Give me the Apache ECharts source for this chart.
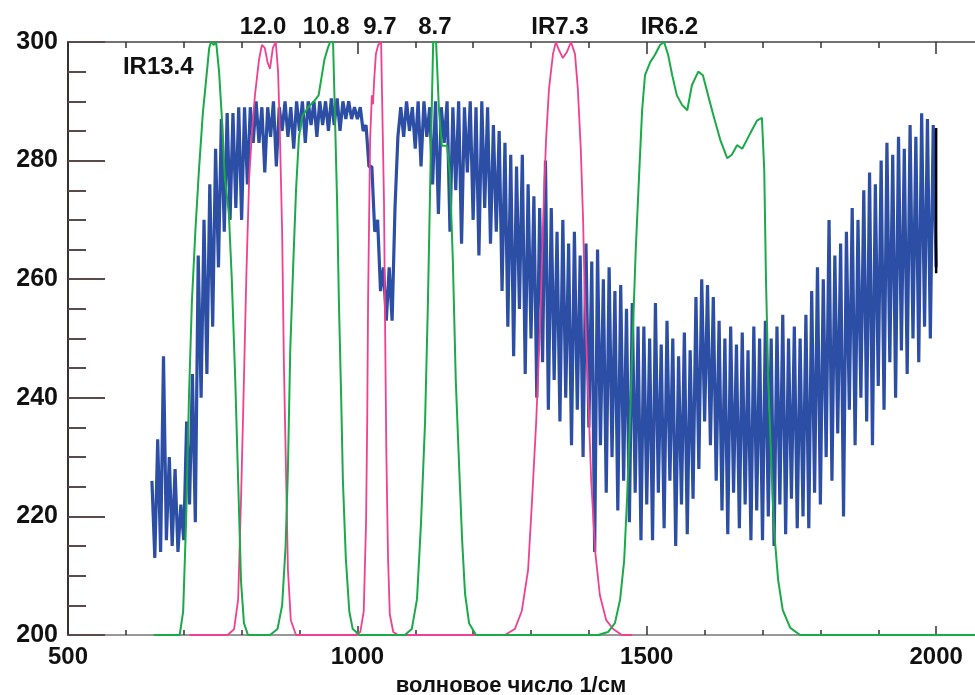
<!DOCTYPE html>
<html lang="ru">
<head>
<meta charset="utf-8">
<title>Спектр и каналы</title>
<script src="https://cdn.jsdelivr.net/npm/echarts/dist/echarts.min.js"></script>
<style>
  html, body { margin: 0; padding: 0; background: #fff; }
  #main { width: 975px; height: 695px; }
</style>
</head>
<body>
<div id="main"></div>
<script type="text/javascript">
// яркостная температура (K), шаг 5 см-1 начиная с 645
var specStart = 645;
var specStep = 5;
var specT = [
  226, 213, 233, 214, 247, 216, 230, 215, 228, 214,   // 645
  222, 216, 236, 222, 244, 219, 264, 240, 270, 244,   // 695
  276, 252, 282, 262, 287, 268, 288, 270, 288, 272,   // 745
  289, 270, 289, 276, 289, 283, 290, 283, 289, 278,   // 795
  289, 284, 290, 279, 289, 285, 290, 284, 289, 282,   // 845
  290, 285, 290, 283, 290, 286, 290, 284, 290, 286,   // 895
  290, 285, 290.5, 286, 290.5, 285, 290, 287, 290, 287, // 945
  289, 287, 289, 285, 286, 279, 279, 268, 270, 258,   // 995
  262, 253, 262, 253, 272, 284, 289, 284, 290, 285,   // 1045
  289, 282, 290, 279, 290, 284, 289, 276, 290, 271,   // 1095
  289, 283, 290, 268, 289, 275, 290, 266, 289, 278,   // 1145
  290, 270, 289, 264, 290, 272, 289, 266, 286, 268,   // 1195
  285, 258, 283, 252, 281, 247, 279, 255, 281, 244,   // 1245
  276, 250, 274, 240, 272, 246, 280, 238, 272, 243,   // 1295
  268, 236, 270, 240, 266, 232, 268, 238, 264, 230,   // 1345
  266, 235, 263, 214, 265, 232, 260, 224, 262, 230,   // 1395
  258, 221, 259, 226, 255, 219, 256, 224, 252, 216,   // 1445
  252, 222, 250, 216, 256, 224, 249, 218, 253, 226,   // 1495
  250, 215, 247, 222, 251, 217, 248, 223, 257, 228,   // 1545
  260, 236, 259, 232, 257, 226, 253, 221, 250, 217,   // 1595
  252, 224, 249, 218, 251, 222, 248, 216, 252, 221,   // 1645
  250, 216, 253, 220, 250, 215, 252, 222, 254, 217,   // 1695
  250, 223, 252, 218, 250, 220, 254, 218, 258, 224,   // 1745
  262, 222, 260, 230, 270, 226, 264, 234, 266, 220,   // 1795
  268, 238, 272, 232, 270, 240, 275, 236, 278, 232,   // 1845
  276, 242, 280, 238, 283, 246, 281, 240, 284, 248,   // 1895
  282, 244, 286, 250, 284, 246, 288, 252, 287, 250,   // 1945
  286, 262                                            // 1995
];
// чёрная метка на конце спектра
var endMark = [[2000, 261], [2000, 285.5]];

// функции пропускания каналов [волновое число, значение]
var chIR134 = [[648,200],[693,200],[699,204],[704,219],[709,240],[714,256],[720,268],[726,278],[733,288],[739,294],[744,299],[747,300],[752,299.5],[756,300],[761,295],[766,287],[771,277],[778,271],[783,260],[789,243],[794,226],[799,209],[804,202],[811,200],[850,200]];
var ch120 = [[710,200],[776,200],[787,201],[794,206],[799,223],[804,243],[808,260],[813,277],[818,285],[823,291],[830,297],[835,299.5],[840,299],[845,296.5],[849,295.5],[854,299],[859,300],[863,295],[866,285],[870,268],[873,246],[877,226],[880,211],[885,202.5],[894,200],[1000,200]];
var ch108 = [[849,200],[862,201],[870,205],[876,215],[880,228],[884,248],[889,262],[894,275],[899,284],[905,287.5],[915,289],[925,290],[933,291],[938,294],[943,297],[949,299],[953,300],[958,300],[961,288.5],[965,273],[968,256.5],[972,240],[975,226],[980,213],[986,204],[992,201],[1004,200],[1085,200]];
var ch97 = [[996,200],[1005,200.5],[1011,204],[1015,219],[1017,236],[1018.5,256.5],[1022,283.5],[1024,288.5],[1025,291],[1027,289.5],[1029,293.5],[1032,298],[1036,299.5],[1041,300],[1044,299.7],[1046,273],[1048,251],[1050,231],[1053,213],[1056,203.5],[1062,200.5],[1070,200],[1260,200]];
var ch87 = [[1082,200],[1094,201],[1103,206],[1110,219],[1117,236],[1122,256.5],[1127,282],[1131,300],[1136,300],[1141,288.5],[1146,282.5],[1155,282.5],[1160,277.5],[1165,263],[1170,243],[1176,228],[1181,216],[1186,207],[1193,202],[1205,200],[1420,200]];
var chIR73 = [[1255,200],[1272,201],[1284,204],[1295,211],[1302,223],[1309,236],[1316,253],[1321,270],[1326,283.5],[1331,292],[1338,298],[1343,300],[1348,298.7],[1355,297.3],[1362,298.3],[1369,300],[1376,298],[1381,292],[1386,282],[1390,270],[1393,256.5],[1399,240],[1404,226],[1411,214],[1419,206.7],[1430,202.5],[1442,201],[1457,200],[1475,200]];
var chIR62 = [[1416,200],[1433,200.5],[1445,202],[1454,206],[1461,212.6],[1466,223],[1471,236],[1476,251],[1481,265],[1487,278],[1492,288.5],[1497,294.4],[1506,296.6],[1514,297.8],[1523,299.5],[1530,300],[1537,297.8],[1544,294.4],[1552,291],[1561,289.4],[1570,288.5],[1578,292.7],[1589,295],[1597,294.4],[1606,291],[1615,287.7],[1627,283.5],[1639,280.4],[1647,281],[1656,282.6],[1665,282],[1673,283.5],[1682,285.2],[1691,286.8],[1699,287.2],[1703,278.4],[1706,260],[1710,243],[1715,229.5],[1720,217.7],[1727,209.3],[1735,204.2],[1748,201.2],[1765,200],[2100,200]];

// подписи каналов
var bandNames = ['IR13.4', '12.0', '10.8', '9.7', '8.7', 'IR7.3', 'IR6.2'];
var bandLabelWn = [656, 837, 946, 1039, 1134, 1350, 1539];
var bandLabelT = [295.7, 302.5, 302.5, 302.5, 302.5, 302.5, 302.5];

var xLabels = [500, 1000, 1500, 2000];
var xName = 'волновое число 1/см';

var GREEN = '#1aaa48';
var PINK = '#f0408f';
var BLUE = '#2c4ea4';
var FONT = '"Liberation Sans", Arial, sans-serif';

var specData = specT.map(function (t, i) { return [specStart + i * specStep, t]; });

var dom = document.getElementById('main');
var myChart = echarts.init(dom, null, { renderer: 'canvas' });

function xAx(pos, interval, len, labels, lineShow, lineColor) {
    return {
        type: 'value', min: 500, max: 2100, interval: interval, position: pos,
        axisLine: { show: lineShow, lineStyle: { color: lineColor, width: 1.5 } },
        axisTick: { show: true, inside: true, length: len, lineStyle: { color: '#333', width: 1.5 } },
        axisLabel: labels ? {
            show: true, margin: 10, color: '#111', fontSize: 24, fontWeight: 'bold', fontFamily: FONT,
            formatter: function (v) { return xLabels.indexOf(v) >= 0 ? String(v) : ''; }
        } : { show: false },
        splitLine: { show: false }
    };
}

function lineSeries(name, data, color, width) {
    return {
        name: name, type: 'line', data: data, showSymbol: false, symbol: 'none',
        lineStyle: { color: color, width: width }, animation: false, silent: true
    };
}

option = {
    animation: false,
    backgroundColor: '#fff',
    // ось продолжается за правый край картинки (до 2100)
    grid: { left: 68, width: 926, top: 42, bottom: 60, outerBoundsMode: 'none', containLabel: false },
    xAxis: [
        xAx('bottom', 100, 5, false, true, '#777'),
        xAx('bottom', 500, 9, true, false, '#777'),
        xAx('top', 100, 6, false, true, '#444'),
        xAx('top', 500, 12, false, false, '#444')
    ],
    yAxis: [
        {
            type: 'value', min: 200, max: 300, interval: 5, position: 'left',
            axisLine: { show: true, lineStyle: { color: '#3a3030', width: 2 } },
            axisTick: { inside: true, length: 18, lineStyle: { color: '#5a4a4a', width: 2 } },
            axisLabel: { show: false }, splitLine: { show: false }
        },
        {
            type: 'value', min: 200, max: 300, interval: 20, position: 'left',
            axisLine: { show: false },
            axisTick: { inside: true, length: 37, lineStyle: { color: '#5a4a4a', width: 2 } },
            axisLabel: { margin: 10, color: '#111', fontSize: 25, fontWeight: 'bold', fontFamily: FONT },
            splitLine: { show: false }
        }
    ],
    series: [
        lineSeries('spectrum', specData, BLUE, 3.2),
        lineSeries('end', endMark, '#000', 2.5),
        lineSeries('12.0', ch120, PINK, 1.8),
        lineSeries('9.7', ch97, PINK, 1.8),
        lineSeries('IR7.3', chIR73, PINK, 1.8),
        lineSeries('IR13.4', chIR134, GREEN, 2),
        lineSeries('10.8', ch108, GREEN, 2),
        lineSeries('8.7', ch87, GREEN, 2),
        lineSeries('IR6.2', chIR62, GREEN, 2)
    ]
};

if (option && typeof option === 'object') {
    myChart.setOption(option, true);
}

// подписи ставим по координатам осей
var texts = [];
for (var i = 0; i < bandNames.length; i++) {
    var p = myChart.convertToPixel({ xAxisIndex: 0, yAxisIndex: 0 }, [bandLabelWn[i], bandLabelT[i]]);
    texts.push({
        type: 'text', x: p[0], y: p[1], z: 100,
        style: { text: bandNames[i], fill: '#111', font: 'bold 24px ' + FONT, textAlign: 'center', textVerticalAlign: 'middle' }
    });
}
texts.push({
    type: 'text', x: 511, y: 686, z: 100,
    style: { text: xName, fill: '#111', font: 'bold 22px ' + FONT, textAlign: 'center', textVerticalAlign: 'middle' }
});
myChart.setOption({ graphic: texts });
</script>
</body>
</html>
